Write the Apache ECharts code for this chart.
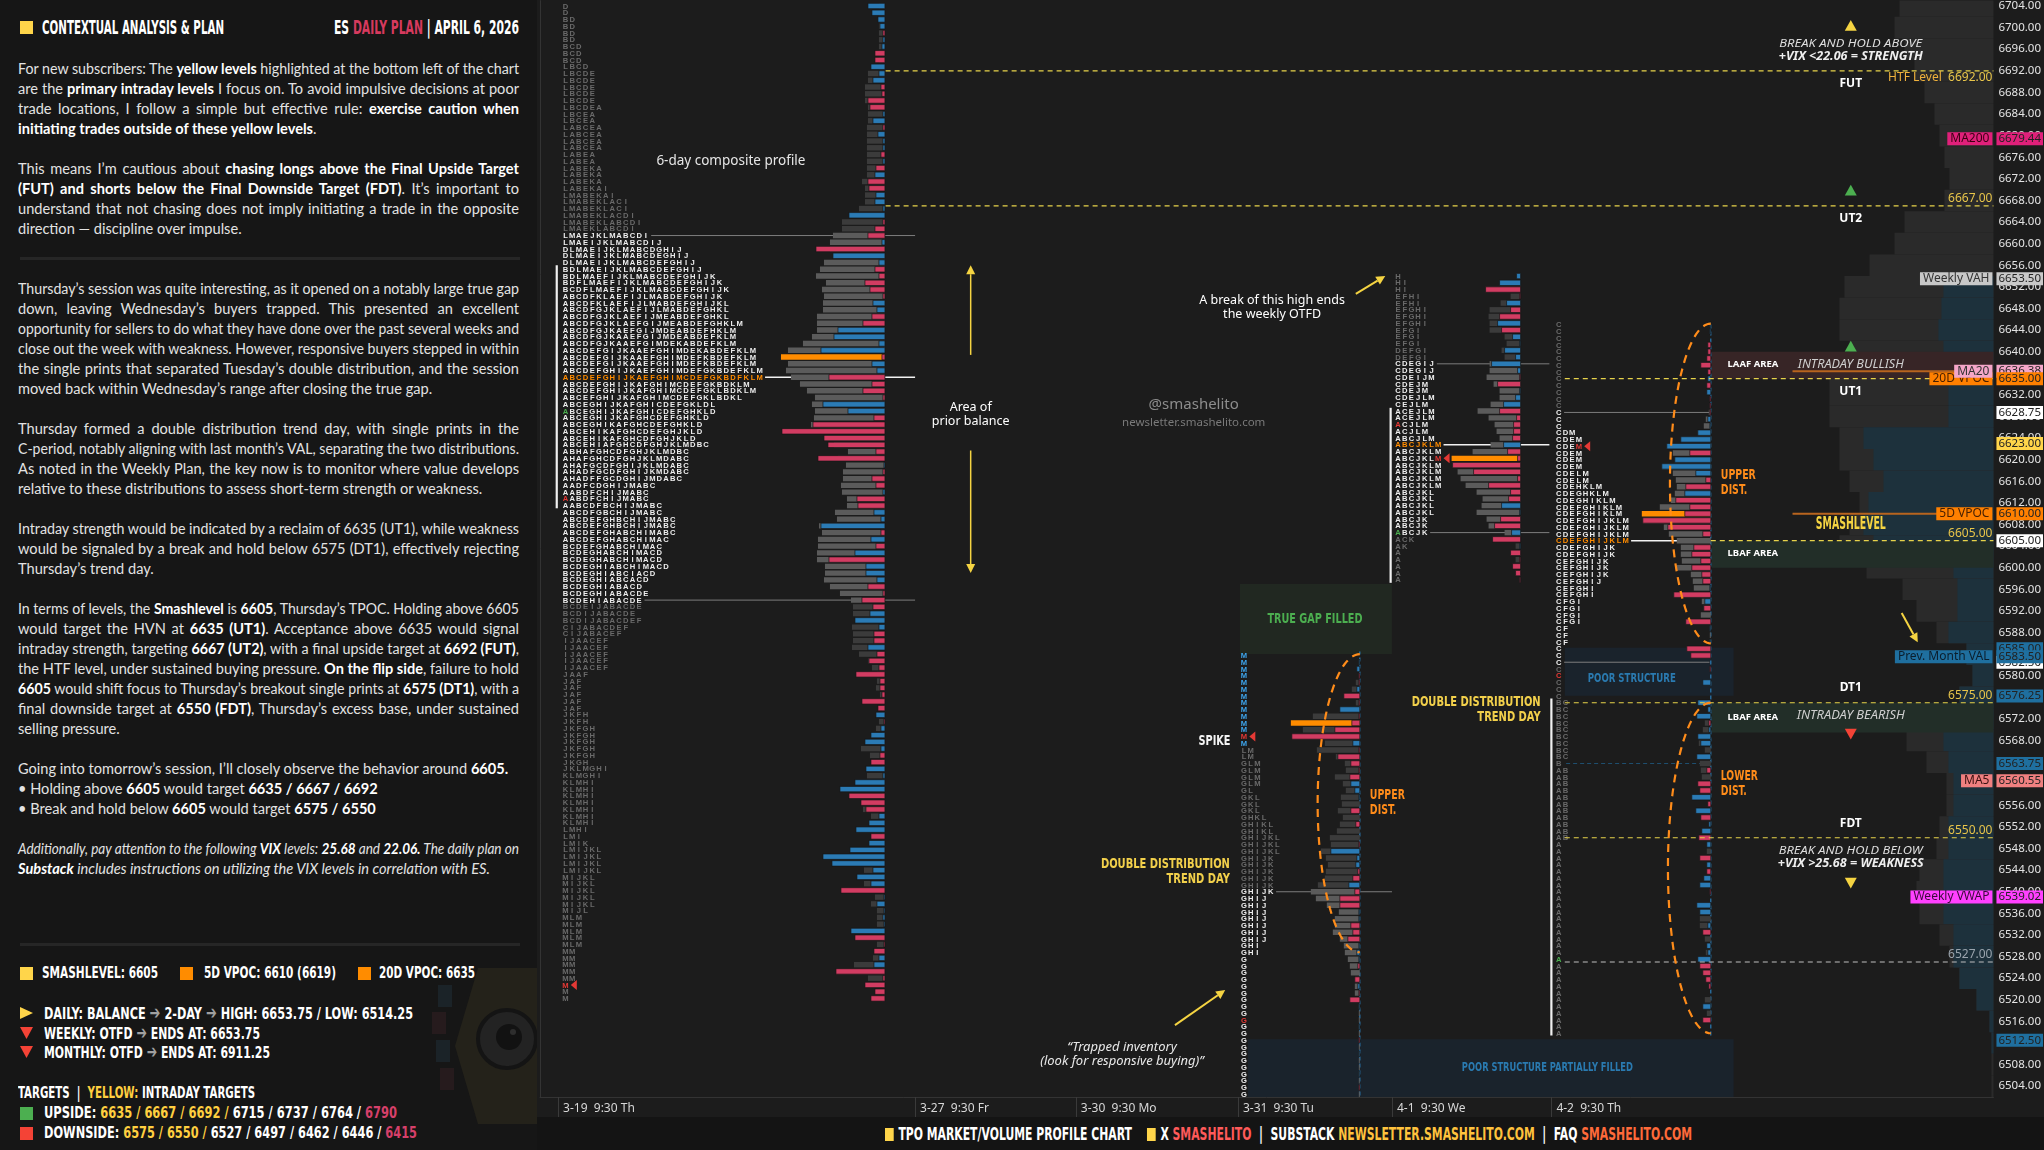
<!DOCTYPE html>
<html>
<head>
<meta charset="utf-8">
<title>ES Daily Plan – TPO / Volume Profile</title>
<script src="https://cdn.jsdelivr.net/npm/echarts@6.0.0/dist/echarts.min.js"></script>
<style>
html,body{margin:0;padding:0;width:2044px;height:1150px;overflow:hidden;background:#1c1c1c;}
#chart{position:absolute;left:0;top:0;width:2044px;height:1150px;}
#panel{position:absolute;left:0;top:0;width:537px;height:1150px;background:#161616;overflow:hidden;z-index:3;}
.cond{position:absolute;white-space:nowrap;font-family:"Liberation Sans Narrow","DejaVu Sans Condensed","DejaVu Sans",sans-serif;font-stretch:condensed;font-weight:bold;color:#fff;transform-origin:0 50%;line-height:18px;font-size:16px;}
.para{position:absolute;left:18px;width:501px;font-family:"Lato","Noto Sans",sans-serif;font-size:14.6px;line-height:20px;color:#e3e3e3;}
.para b{color:#fff;font-weight:bold;}
.ln{height:20px;white-space:nowrap;transform-origin:0 50%;text-align:left;}
.ln.j{text-align:justify;text-align-last:justify;}
.sq{position:absolute;width:13px;height:13px;}
.sep{position:absolute;left:20px;width:500px;height:3px;background:#262626;}
.y{color:#ffcf40}.r{color:#d6406a}.g{color:#a0a0a0;font-size:1.15em}
#footer{position:absolute;left:537px;top:1117px;width:1507px;height:33px;background:#141414;z-index:2;}
.isq{display:inline-block;width:13px;height:13px;background:#ffd54a;vertical-align:-1px;margin-right:7px;}
</style>
</head>
<body>
<div id="chart"></div>

<div id="panel">
  <svg style="position:absolute;left:0;top:0" width="537" height="1150">
    <polygon points="455,1046 478,968 537,968 537,1124 478,1124" fill="#24221a"/>
    <rect x="438" y="985" width="14" height="22" fill="#1b2328"/>
    <rect x="432" y="1012" width="14" height="22" fill="#261b1d"/>
    <rect x="436" y="1040" width="14" height="22" fill="#1b2328"/>
    <rect x="440" y="1068" width="14" height="22" fill="#261b1d"/>
    <circle cx="507" cy="1039" r="29" fill="#232323" stroke="#141414" stroke-width="4"/>
    <circle cx="509" cy="1037" r="13" fill="#121212"/>
    <circle cx="513" cy="1032" r="3" fill="#2e2e2e"/>
    <polygon points="20,1007 33,1013 20,1019" fill="#ffd54a"/>
    <polygon points="20,1027 33,1027 26.5,1039" fill="#f44336"/>
    <polygon points="20,1046 33,1046 26.5,1058" fill="#f44336"/>
  </svg>
  <div class="sq" style="left:20px;top:21px;background:#ffd54a"></div>
  <div class="cond fit" data-w="182" style="left:42px;top:16px;font-size:19px;line-height:22px">CONTEXTUAL ANALYSIS &amp; PLAN</div>
  <div class="cond fit" data-w="185" style="left:334px;top:16px;font-size:19px;line-height:22px">ES <span style="color:#d63a5e">DAILY PLAN</span> | APRIL 6, 2026</div>

  <div class="para" style="top:59px">
    <div class="ln j">For new subscribers: The <b>yellow levels</b> highlighted at the bottom left of the chart</div>
    <div class="ln j">are the <b>primary intraday levels</b> I focus on. To avoid impulsive decisions at poor</div>
    <div class="ln j">trade locations, I follow a simple but effective rule: <b>exercise caution when</b></div>
    <div class="ln"><b>initiating trades outside of these yellow levels</b>.</div>
  </div>
  <div class="para" style="top:159px">
    <div class="ln j">This means I’m cautious about <b>chasing longs above the Final Upside Target</b></div>
    <div class="ln j"><b>(FUT) and shorts below the Final Downside Target (FDT)</b>. It’s important to</div>
    <div class="ln j">understand that not chasing does not imply initiating a trade in the opposite</div>
    <div class="ln">direction — discipline over impulse.</div>
  </div>
  <div class="sep" style="top:257px"></div>
  <div class="para" style="top:279px">
    <div class="ln j">Thursday’s session was quite interesting, as it opened on a notably large true gap</div>
    <div class="ln j">down, leaving Wednesday’s buyers trapped. This presented an excellent</div>
    <div class="ln j">opportunity for sellers to do what they have done over the past several weeks and</div>
    <div class="ln j">close out the week with weakness. However, responsive buyers stepped in within</div>
    <div class="ln j">the single prints that separated Tuesday’s double distribution, and the session</div>
    <div class="ln">moved back within Wednesday’s range after closing the true gap.</div>
  </div>
  <div class="para" style="top:419px">
    <div class="ln j">Thursday formed a double distribution trend day, with single prints in the</div>
    <div class="ln j">C-period, notably aligning with last month’s VAL, separating the two distributions.</div>
    <div class="ln j">As noted in the Weekly Plan, the key now is to monitor where value develops</div>
    <div class="ln">relative to these distributions to assess short-term strength or weakness.</div>
  </div>
  <div class="para" style="top:519px">
    <div class="ln j">Intraday strength would be indicated by a reclaim of 6635 (UT1), while weakness</div>
    <div class="ln j">would be signaled by a break and hold below 6575 (DT1), effectively rejecting</div>
    <div class="ln">Thursday’s trend day.</div>
  </div>
  <div class="para" style="top:599px">
    <div class="ln j">In terms of levels, the <b>Smashlevel</b> is <b>6605</b>, Thursday’s TPOC. Holding above 6605</div>
    <div class="ln j">would target the HVN at <b>6635 (UT1)</b>. Acceptance above 6635 would signal</div>
    <div class="ln j">intraday strength, targeting <b>6667 (UT2)</b>, with a final upside target at <b>6692 (FUT)</b>,</div>
    <div class="ln j">the HTF level, under sustained buying pressure. <b>On the flip side</b>, failure to hold</div>
    <div class="ln j"><b>6605</b> would shift focus to Thursday’s breakout single prints at <b>6575 (DT1)</b>, with a</div>
    <div class="ln j">final downside target at <b>6550 (FDT)</b>, Thursday’s excess base, under sustained</div>
    <div class="ln">selling pressure.</div>
  </div>
  <div class="para" style="top:759px">
    <div class="ln">Going into tomorrow’s session, I’ll closely observe the behavior around <b>6605.</b></div>
    <div class="ln">• Holding above <b>6605</b> would target <b>6635 / 6667 / 6692</b></div>
    <div class="ln">• Break and hold below <b>6605</b> would target <b>6575 / 6550</b></div>
  </div>
  <div class="para" style="top:839px;font-style:italic">
    <div class="ln j">Additionally, pay attention to the following <b>VIX</b> levels: <b>25.68</b> and <b>22.06.</b> The daily plan on</div>
    <div class="ln"><b>Substack</b> includes instructions on utilizing the VIX levels in correlation with ES.</div>
  </div>
  <div class="sep" style="top:943px"></div>

  <div class="sq" style="left:20px;top:967px;background:#ffd54a"></div>
  <div class="cond fit" data-w="116" style="left:42px;top:964px">SMASHLEVEL: 6605</div>
  <div class="sq" style="left:180px;top:967px;background:#ff8c00"></div>
  <div class="cond fit" data-w="132" style="left:204px;top:964px">5D VPOC: 6610 (6619)</div>
  <div class="sq" style="left:358px;top:967px;background:#ff8c00"></div>
  <div class="cond fit" data-w="96" style="left:379px;top:964px">20D VPOC: 6635</div>

  <div class="cond fit" data-w="369" style="left:44px;top:1004px">DAILY: BALANCE <span class="g">➔</span> 2-DAY <span class="g">➔</span> HIGH: 6653.75 / LOW: 6514.25</div>
  <div class="cond fit" data-w="216" style="left:44px;top:1024px">WEEKLY: OTFD <span class="g">➔</span> ENDS AT: 6653.75</div>
  <div class="cond fit" data-w="226" style="left:44px;top:1043px">MONTHLY: OTFD <span class="g">➔</span> ENDS AT: 6911.25</div>

  <div class="cond fit" data-w="237" style="left:18px;top:1084px">TARGETS&nbsp; | &nbsp;<span class="y">YELLOW:</span> INTRADAY TARGETS</div>
  <div class="sq" style="left:20px;top:1107px;background:#4caf50"></div>
  <div class="cond fit" data-w="353" style="left:44px;top:1104px">UPSIDE: <span class="y">6635 / 6667 / 6692 /</span> 6715 / 6737 / 6764 / <span class="r">6790</span></div>
  <div class="sq" style="left:20px;top:1127px;background:#f44336"></div>
  <div class="cond fit" data-w="373" style="left:44px;top:1124px">DOWNSIDE: <span class="y">6575 / 6550 /</span> 6527 / 6497 / 6462 / 6446 / <span class="r">6415</span></div>
</div>

<div id="footer">
  <div class="cond fit" data-w="807" style="left:348px;top:7px;font-size:18px;line-height:20px"><span class="isq"></span>TPO MARKET/VOLUME PROFILE CHART &nbsp;&nbsp; <span class="isq"></span>X <span style="color:#ff5a5a">SMASHELITO</span> &nbsp;|&nbsp; SUBSTACK <span style="color:#ffc23d">NEWSLETTER.SMASHELITO.COM</span> &nbsp;|&nbsp; FAQ <span style="color:#ff6a3a">SMASHELITO.COM</span></div>
</div>

<script>
// ====================== DATA ======================
const ROW = 1.25; // TPO / volume row height in index points

// Price axis tick labels
const priceTicks = [6504,6508,6512,6516,6520,6524,6528,6532,6536,6540,6544,6548,6552,6556,6560,6564,6568,6572,6576,6580,6584,6588,6592,6596,6600,6604,6608,6612,6616,6620,6624,6628,6632,6636,6640,6644,6648,6652,6656,6660,6664,6668,6672,6676,6680,6684,6688,6692,6696,6700,6704];

// Session (time axis) labels and their positions on the session axis
const sessionDates = ['3-19  9:30 Th','3-27  9:30 Fr','3-30  9:30 Mo','3-31  9:30 Tu','4-1  9:30 We','4-2  9:30 Th'];
const sessionPos = [2.7, 56, 80, 104.2, 127.2, 151];

// ---- 6-day composite profile (top row price, TPO rows run-length, volume run-length, delta per row)
const compTop = 6704;
const compTpo = [[2,'D'],[4,'BD'],[3,'BCD'],[1,'LBCD'],[5,'LBCDE'],[1,'LBCDEA'],[2,'LBCEA'],[4,'LABCEA'],[2,'LABEA'],[3,'LABEKA'],[1,'LABEKAI'],[1,'LMABEKAI'],[2,'LMABEKLACI'],[1,'LMABEKLACDI'],[1,'LMABEKLABCDI'],[1,'LMAEKLABCDI'],
 [1,'LMAEJKLMABCDI'],[1,'LMAEIJKLMABCDIJ'],[1,'DLMAEIJKLMABCDGHIJ'],[1,'DLMAEIJKLMABCDEGHIJ'],[1,'DLMAEIJKLMABCDEFGHIJ'],[1,'BDLMAEIJKLMABCDEFGHIJ'],[1,'BDLMAEFIJKLMABCDEFGHIJK'],[1,'BDFLMAEFIJKLMABCDEFGHIJK'],[1,'BCDFLMAEFIJKLMABCDEFGHIJK'],
 [1,'ABCDFKLAEFIJLMABDEFGHIJK'],[1,'ABCDFKLAEFIJLMABDEFGHIJKL'],[1,'ABCDFGJKLAEFIJLMABDEFGHKL'],[1,'ABCDFGJKLAEFIJMEABDEFGHKL'],[1,'ABCDFGJKLAEFGIJMEABDEFGHKLM'],[1,'ABCDFGJKAEFGIJMDEABDEFHKLM'],[1,'ABCDFGJKAAEFGIJMDEABDEFKLM'],[1,'ABCDFGJKAAEFGIMDEKABDEFKLM'],
 [1,'ABCDEFGIJKAAEFGHIMDEKABDEFKLM'],[2,'ABCDEFGIJKAAEFGHIMDEFKBDEFKLM'],[1,'ABCDEFGHIJKAEFGHIMDEFGKBDEFKLM'],[1,'ABCDEFGHIJKAEFGHIMCDEFGKBDFKLM'],[1,'ABCDEFGHIJKAFGHIMCDEFGKBDKLM'],[1,'ABCDEFGHIJKAFGHIMCDEFGKLBDKLM'],[1,'ABCEFGHIJKAFGHIMCDEFGKLBDKL'],
 [1,'ABCEGHIJKAFGHICDEFGKLDL'],[1,'ABCEGHIJKAFGHICDEFGHKLD'],[1,'ABCEGHIJKAFGHCDEFGHKLD'],[1,'ABCEGHIKAFGHCDEFGHKLD'],[1,'ABCEHIKAFGHCDEFGHJKLD'],[1,'ABCEHIKAFGHCDFGHJKLD'],[1,'ABCEHIAFGHCDFGHJKLMDBC'],[1,'ABHAFGHCDFGHJKLMDBC'],[1,'AHAFGHCDFGHJKLMDABC'],[1,'AHAFGCDFGHIJKLMDABC'],[1,'AHADFGCDFGHIJKMDABC'],[1,'AHADFFGCDGHIJMDABC'],
 [1,'AADFCDGHIJMABC'],[2,'AABDFCHIJMABC'],[1,'AABCDFBCHIJMABC'],[1,'ABCDFGBCHIJMABC'],[2,'ABCDEFGHBCHIJMABC'],[1,'ABCDEFGHABCHIMABC'],[1,'ABCDEFGHABCHIMAC'],[1,'BCDEFGHABCHIMAC'],[2,'BCDEGHABCHIMACD'],[1,'BCDEGHIABCHIMACD'],[1,'BCDEGHIABCIACD'],[1,'BCDEGHIABCACD'],[1,'BCDEGHIABACD'],[1,'BCDEGHIABACDE'],[1,'BCDEHIABACDE'],
 [1,'BCDEIJABACDE'],[1,'BCDIJABACDE'],[1,'BCDIJABACDEF'],[1,'CIJABACDEF'],[1,'CIJABACEF'],[5,'IJAACEF'],[1,'JAAF'],[5,'JAF'],[2,'JKFH'],[5,'JKFGH'],[1,'JKGH'],[1,'JKLMGHI'],[1,'KLMGHI'],[7,'KLMHI'],[1,'LMHI'],[1,'LMI'],[1,'LMIK'],[4,'LMIJKL'],[5,'MIJKL'],[1,'MIJL'],[5,'MLM'],[5,'MM'],[3,'M']];
const compVol = [[10,6],[2,17],[3,20],[3,17],[8,18],[1,23],[3,20],[1,26],[1,36],[2,43],[1,52],[2,55],[1,52],[1,61],[1,65],[1,69],[1,59],[1,63],[1,61],[2,62],[3,68],[1,73],[1,82],[1,97],[1,104],[1,97],[1,99],[1,94],[1,85],[1,78],[1,70],[1,73],[1,70],[1,71],[1,74],[1,65],[1,60],[1,51],[1,37],[1,47],[1,39],[2,42],[1,44],[1,43],[2,38],[1,50],[1,48],[1,66],[1,63],[2,67],[2,68],[2,60],[1,61],[1,55],[1,45],[1,34],[2,32],[1,30],[1,33],[2,32],[1,33],[1,26],[1,17],[1,13],[2,8],[1,9],[1,5],[1,4],[2,3],[1,6],[1,9],[2,3],[1,24],[1,15],[2,3],[1,18],[4,3],[1,22],[1,14],[7,3],[1,21],[1,3],[1,21],[1,3],[1,10],[1,14],[3,8],[2,3],[1,8],[1,3],[1,12],[1,31],[1,3],[1,17],[3,3]];
const compDelta = [17,13,7,5,-2,2,3,-10,-10,14,6,12,-4,-3,-17,-15,2,12,-2,7,2,2,-4,2,-9,10,-17,-16,9,10,2,36,-2,-10,-17,3,-69,52,6,-10,-6,-20,-15,-2,12,8,-13,-22,47,51,6,64,-3,13,8,-56,-13,-22,-2,62,37,-11,-72,-103,-61,-57,-9,-67,1,-2,-13,-9,2,-28,-27,11,4,64,-4,14,-9,30,-56,19,19,8,-17,-2,-23,-12,15,30,
 6,-11,-11,17,-8,-16,-6,-29,-5,-5,-3,-23,-7,9,-1,4,14,20,4,-5,-14,19,2,30,45,-36,-24,-19,6,16,29,-14,16,35,62,53,12,28,14,-44,1,8,1,2,1,34,-30,-1,-11,6,11,-49,-2,-20,-10,-14];
const compRows = {vah:34, poc:55, val:88, vpoc:52, marker:145};
const compSpecial = [[60,0,'#4caf50'],[73,0,'#e53935'],[145,0,'#e53935']];

// ---- 3-31 (Tue) profile
const p331Top = 6583.75;
const p331Tpo = [[14,'M'],[2,'LM'],[4,'GLM'],[1,'GL'],[3,'GKL'],[1,'GHKL'],[2,'GHIKL'],[3,'GHIJKL'],[6,'GHIJK'],[7,'GHIJ'],[2,'GHI'],[21,'G']];
const p331Vol = [0,1,3,1,4,8,16,4,20,47,69,57,68,35,43,24,15,14,25,17,14,19,18,22,17,20,23,30,29,39,34,32,34,35,42,49,44,33,21,25,25,27,20,16,15,12,10,9,5,5,5,10,1,1,1,1,1,1,1,1,1,1,1,1,1,1];
const p331Delta = [0,1,3,-1,-1,3,-16,-1,20,-1,-8,-25,-68,7,-1,-22,-9,-1,-10,9,5,1,0,-9,0,-4,0,0,-1,29,3,4,-2,-7,11,-5,-20,-20,1,1,-9,-7,-12,1,3,1,-2,0,-5,2,-1,-10,1,0,0,1,0,-1,0,1,0,0,1,0,-1,0];
const p331Rows = {vah:35, poc:-1, val:65, vpoc:10, marker:12, blueTo:13};
const p331Special = [[12,0,'#e53935'],[54,0,'#e53935']];

// ---- 4-1 (Wed) profile
const p401Top = 6654;
const p401Tpo = [[1,'H'],[2,'HI'],[2,'EFHI'],[3,'EFGHI'],[3,'EFGI'],[2,'DEFGI'],[2,'CDEGIJ'],[1,'CDEIJM'],[2,'CDEJM'],[1,'CDEJLM'],[1,'CEJLM'],[2,'ACEJLM'],[2,'ACJLM'],[1,'ABCJLM'],[7,'ABCJKLM'],[4,'ABCJKL'],[3,'ABCJK'],[1,'ACK'],[1,'AK'],[5,'A']];
const p401Vol = [4,21,35,10,20,31,32,31,31,16,14,19,16,31,31,34,27,21,21,30,43,32,26,24,21,30,48,69,68,63,60,55,44,38,39,44,34,32,16,28,5,10,5,8,5,1];
const p401Delta = [4,21,-35,-1,14,-10,-21,23,-19,8,1,16,5,29,3,-1,-23,1,5,17,-21,-4,-7,-7,-8,17,-13,-3,-68,-47,-3,-32,-10,-12,19,1,-20,-26,9,-28,1,-10,-1,-8,-5,-1];
const p401Rows = {vah:13, poc:25, val:38, vpoc:27, marker:27};
const p401Special = [[22,0,'#e53935'],[27,6,'#e53935'],[38,0,'#4caf50']];

// ---- 4-2 (Thu) profile
const p402Top = 6645;
const p402Tpo = [[13,'C'],[3,'C'],[1,'CDM'],[5,'CDEM'],[2,'CDELM'],[1,'CDEHKLM'],[1,'CDEGHKLM'],[1,'CDEGHIKLM'],[2,'CDEFGHIKLM'],[4,'CDEFGHIJKLM'],[2,'CDEFGHIJK'],[3,'CEFGHIJK'],[1,'CEFGHIJ'],[2,'CEFGHI'],[4,'CFGI'],[3,'CF'],[3,'C'],[5,'C'],[9,'BC'],[1,'B'],[11,'AB'],[29,'A']];
const p402Vol = [1,1,0,3,3,4,10,3,3,4,4,1,1,2,5,7,13,30,44,38,36,49,38,35,34,36,40,51,69,68,47,42,34,30,30,29,34,20,18,17,37,9,7,10,25,1,1,1,24,20,0,1,0,8,0,0,13,3,14,6,8,13,12,6,14,11,10,9,13,11,19,3,15,10,2,9,12,4,4,11,4,4,7,11,1,0,14,11,11,11,8,6,4,5,13,11,8,5,2,0,6,8,4,8,0,0];
const p402Delta = [1,1,0,-3,-3,-4,-10,-3,3,-4,4,-1,-1,-1,3,1,13,30,44,-21,36,49,15,-5,-25,26,-35,-21,-26,-68,-43,-8,0,-17,-19,-10,-19,-9,-8,1,-37,6,-7,0,-25,1,0,1,-24,-20,0,-1,0,8,0,0,13,3,14,-2,2,13,10,0,14,0,-4,0,-13,-11,19,-3,15,-10,2,9,-12,4,0,-11,4,-4,7,11,-1,0,14,11,0,3,-8,0,4,3,13,-11,-8,-5,-2,0,0,8,0,-8,0,0];
const p402Rows = {vah:13, poc:32, val:50, vpoc:28, marker:18};
const p402Special = [[18,3,'#e53935'],[52,0,'#e53935'],[94,0,'#4caf50']];

// Initial-balance ranges (price from, price to) for composite, 4-1, 4-2
const ibRanges = [[6611,6656],[6597.2,6629.6],[6513.4,6575.8]];

// Weekly background volume profile (4-pt bands) and its value-area part
const weeklyPrices = [6704,6700,6696,6692,6688,6684,6680,6676,6672,6668,6664,6660,6656,6652,6648,6644,6640,6636,6632,6628,6624,6620,6616,6612,6608,6604,6600,6596,6592,6588,6584,6580,6576,6572,6568,6564,6560,6556,6552,6548,6544,6540,6536,6532,6528,6524,6520,6516,6512,6508,6504];
const weeklyVol = [94,99,89,79,69,59,54,49,44,49,89,99,124,149,154,154,144,164,164,164,154,154,144,134,144,154,127,91,77,57,27,21,34,84,87,67,47,47,54,57,74,77,74,54,44,34,17,4,2,2,2];
const weeklyVA = [0,0,0,0,0,0,0,0,0,0,0,0,0,50,52,55,50,45,45,45,130,120,110,125,130,120,40,36,36,45,27,21,34,40,50,45,40,40,45,45,50,50,50,40,40,34,17,4,2,0,0];

// Key levels (dashed) and labels
const levelPrices = [6692, 6667, 6635, 6605, 6575, 6550, 6527];
const levelLabels = ['6692.00','6667.00','','6605.00','6575.00','6550.00','6527.00'];
// Moving-average / VPOC reference lines
const refLines = [6636.38, 6610.00];

// Axis value tags
const axisTagValues = [6679.44, 6653.50, 6636.38, 6635.00, 6628.75, 6623.00, 6610.00, 6605.00, 6585.00, 6582.50, 6583.50, 6576.25, 6563.75, 6560.55, 6539.02, 6512.50];
const namedTags = [[6679.44,'MA200'],[6653.50,'Weekly VAH'],[6635.00,'20D VPOC'],[6636.38,'MA20'],[6610.00,'5D VPOC'],[6583.50,'Prev. Month VAL'],[6560.55,'MA5'],[6539.02,'Weekly VWAP']];

// Zones (price ranges)
const zoneRanges = {trueGap:[6584,6597], poor:[6576.3,6585.2], poorPartial:[6502,6512.7], laaf:[6635,6640], lbaf1:[6600,6605], lbaf2:[6569.5,6575]};

// ====================== LAYOUT / STYLE ======================
const X_MAX = 217;
const VOL_PER_UNIT = 6.7;   // volume units per one session-axis unit
const COL = {
  blue:'#2b7bb5', red:'#d23c62', grayVA:'#5b5b5b', grayOut:'#3b3b3b', orange:'#ff8c00',
  letter:'#eeeeee', letterDim:'#6a6a6a', level:'#e6d24a', teal:'#1d313c', bg:'#2a2a2a'
};
const CONDF = '"Liberation Sans Narrow","DejaVu Sans Condensed","Arial Narrow",sans-serif';
const SANS = '"Noto Sans","Open Sans",sans-serif';

function expand(rle){ const out=[]; rle.forEach(([n,v])=>{ for(let i=0;i<n;i++) out.push(v); }); return out; }

const profiles = [
  {top:compTop, tpo:expand(compTpo), vol:expand(compVol), delta:compDelta, rows:compRows, special:compSpecial, letterX:3.3, axisX:51.5, lineEnd:56},
  {top:p331Top, tpo:expand(p331Tpo), vol:p331Vol, delta:p331Delta, rows:p331Rows, special:p331Special, letterX:104.6, axisX:122.4, lineEnd:127.2},
  {top:p401Top, tpo:expand(p401Tpo), vol:p401Vol, delta:p401Delta, rows:p401Rows, special:p401Special, letterX:127.6, axisX:146.4, lineEnd:150.7},
  {top:p402Top, tpo:expand(p402Tpo), vol:p402Vol, delta:p402Delta, rows:p402Rows, special:p402Special, letterX:151.6, axisX:174.8, lineEnd:174.6}
];
const ibX = [2.5, 127.0, 151.0];

function unitPx(api, p){ return api.coord([1,p])[0] - api.coord([0,p])[0]; }
function rowPx(api, p){ return api.coord([0,p])[1] - api.coord([0,p+ROW])[1]; }

function profileRender(P){
  return function(params, api){
    const k = params.dataIndex;
    const price = P.top - k*ROW;
    const c = api.coord([P.axisX, price]);
    const xr = c[0], y = c[1];
    const u = unitPx(api, price);
    const vpx = u / VOL_PER_UNIT;
    const h = rowPx(api, price) * 0.8;
    const R = P.rows;
    const inVA = k >= R.vah && k <= R.val;
    const ch = [];
    const v = P.vol[k] || 0;
    if (v > 0) ch.push({type:'rect', shape:{x:xr - v*vpx, y:y-h/2, width:v*vpx, height:h},
      style:{fill: k===R.vpoc ? COL.orange : (inVA ? COL.grayVA : COL.grayOut)}});
    const d = P.delta[k] || 0;
    if (d !== 0) ch.push({type:'rect', shape:{x:xr - Math.abs(d)*vpx, y:y-h/2, width:Math.abs(d)*vpx, height:h},
      style:{fill: d>0 ? COL.blue : COL.red, stroke:'#161616', lineWidth:0.7}});
    const s = P.tpo[k] || '';
    const x0 = api.coord([P.letterX, price])[0];
    for (let j=0; j<s.length; j++){
      let col;
      const sp = P.special.find(q => q[0]===k && q[1]===j);
      if (sp) col = sp[2];
      else if (k === R.poc) col = COL.orange;
      else if (R.blueTo !== undefined && k <= R.blueTo) col = '#3ea6ee';
      else if (inVA) col = COL.letter;
      else col = COL.letterDim;
      ch.push({type:'text', style:{text:s[j], x:x0 + j*u + u/2, y:y+0.5, fill:col,
        font:'bold 7.6px "Liberation Sans","DejaVu Sans",sans-serif', textAlign:'center', textVerticalAlign:'middle'}});
    }
    if (k === R.marker){
      const xm = x0 + s.length*u + 2;
      ch.push({type:'polygon', shape:{points:[[xm,y],[xm+6,y-5],[xm+6,y+5]]}, style:{fill:'#e53935'}});
    }
    return {type:'group', children:ch};
  };
}

// profile structure lines (VAH / POC / VAL)
const structLines = [];
profiles.forEach(P=>{
  const R = P.rows;
  [['vah',R.vah],['poc',R.poc],['val',R.val]].forEach(([kind,k])=>{
    if (k < 0 || k >= P.tpo.length) return;
    if (P === profiles[1] && kind !== 'vah') return;
    const price = P.top - k*ROW;
    structLines.push({x1:P.letterX + P.tpo[k].length + 0.3, x2:P.lineEnd, p:price, kind});
  });
});

const series = [];
// weekly background profile
series.push({type:'custom', z:1, silent:true, clip:true,
  data: weeklyPrices.map(p=>[X_MAX, p]),
  renderItem:(params, api)=>{
    const i = params.dataIndex, p = weeklyPrices[i];
    const a = api.coord([X_MAX, p+2]), b = api.coord([X_MAX, p-2]);
    const vpx = unitPx(api,p)/VOL_PER_UNIT;
    const ch = [{type:'rect', shape:{x:a[0]-weeklyVol[i]*vpx, y:a[1], width:weeklyVol[i]*vpx, height:b[1]-a[1]}, style:{fill:COL.bg}}];
    if (weeklyVA[i] > 0) ch.push({type:'rect', shape:{x:a[0]-weeklyVA[i]*vpx, y:a[1], width:weeklyVA[i]*vpx, height:b[1]-a[1]}, style:{fill:COL.teal}});
    return {type:'group', children:ch};
  }});
// zones
const zoneDefs = [
  {r:zoneRanges.trueGap, x:[104.5,127.2], fill:'#212821'},
  {r:zoneRanges.poor, x:[153,178.2], fill:'#1a232c'},
  {r:zoneRanges.poorPartial, x:[105.7,178.2], fill:'#1a232c'},
  {r:zoneRanges.laaf, x:[174.9,X_MAX], fill:'#372526'},
  {r:zoneRanges.lbaf1, x:[174.9,X_MAX], fill:'#222e28'},
  {r:zoneRanges.lbaf2, x:[174.9,X_MAX], fill:'#222e28'}
];
series.push({type:'custom', z:2, silent:true,
  data: zoneDefs.map(z=>[z.x[0], z.r[0]]),
  renderItem:(params, api)=>{
    const z = zoneDefs[params.dataIndex];
    const a = api.coord([z.x[0], z.r[1]]), b = api.coord([z.x[1], z.r[0]]);
    return {type:'rect', shape:{x:a[0], y:a[1], width:b[0]-a[0], height:b[1]-a[1]}, style:{fill:z.fill}};
  }});
// structure lines + IB lines + profile axis dashed lines + reference lines
const plainLines = [];
structLines.forEach(l=>plainLines.push({x1:l.x1, p1:l.p, x2:l.x2, p2:l.p, color: l.kind==='poc' ? '#f2f2f2' : '#7d7d7d', w: l.kind==='poc'?1.5:1}));
ibRanges.forEach((r,i)=>plainLines.push({x1:ibX[i], p1:r[0], x2:ibX[i], p2:r[1], color:'#f0f0f0', w:2.2}));
plainLines.push({x1:profiles[1].axisX, p1:6502.3, x2:profiles[1].axisX, p2:6584.5, color:COL.blue, w:1.2, dash:[4,3]});
plainLines.push({x1:profiles[3].axisX, p1:6513.4, x2:profiles[3].axisX, p2:6645.6, color:COL.blue, w:1.2, dash:[4,3]});
plainLines.push({x1:profiles[3].letterX+1.6, p1:6563.75, x2:profiles[3].axisX-1.5, p2:6563.75, color:'#1f4f70', w:1, dash:[4,3]});
refLines.forEach(p=>plainLines.push({x1:187, p1:p, x2:X_MAX-0.2, p2:p, color:'#b8641e', w:2}));
series.push({type:'custom', z:3, silent:true,
  data: plainLines.map(l=>[l.x1, l.p1]),
  renderItem:(params, api)=>{
    const l = plainLines[params.dataIndex];
    const a = api.coord([l.x1, l.p1]), b = api.coord([l.x2, l.p2]);
    return {type:'line', shape:{x1:a[0], y1:a[1], x2:b[0], y2:b[1]}, style:{stroke:l.color, lineWidth:l.w, lineDash:l.dash||null}};
  }});
// profiles
profiles.forEach(P=>{
  series.push({type:'custom', z:4, silent:true, clip:false,
    data: P.tpo.map((_,k)=>[P.letterX, P.top - k*ROW]),
    renderItem: profileRender(P)});
});
// key levels
const levelFrom = [51.6, 51.6, 153, 174.8, 153, 153, 153];
series.push({type:'custom', z:5, silent:true,
  data: levelPrices.map((p,i)=>[levelFrom[i], p]),
  renderItem:(params, api)=>{
    const i = params.dataIndex, p = levelPrices[i];
    const a = api.coord([levelFrom[i], p]), b = api.coord([X_MAX, p]);
    return {type:'line', shape:{x1:a[0], y1:a[1], x2:b[0], y2:b[1]},
      style:{stroke: p===6527 ? '#bdbdbd' : COL.level, lineWidth:1.2, lineDash:[5,4]}};
  }});

const chart = echarts.init(document.getElementById('chart'));
chart.setOption({
  backgroundColor:'#1c1c1c',
  animation:false,
  grid:{left:540, right:50, top:0, bottom:53, show:false},
  xAxis:{type:'value', min:0, max:X_MAX,
    axisLine:{show:true, lineStyle:{color:'#333333'}},
    axisTick:{show:true, customValues:sessionPos, length:20, lineStyle:{color:'#3a3a3a'}},
    axisLabel:{customValues:sessionPos, color:'#d8d8d8', fontSize:12, fontFamily:'Noto Sans', align:'left', margin:6, padding:[0,0,0,5],
      formatter:(v)=>{ let i = sessionPos.findIndex(s=>Math.abs(s-v)<1e-6); return i>=0 ? sessionDates[i] : ''; }},
    splitLine:{show:false}},
  yAxis:{type:'value', position:'right', min:6502, max:6705,
    axisLine:{show:true, lineStyle:{color:'#333333'}},
    axisTick:{show:false},
    axisLabel:{customValues:priceTicks, formatter:(v)=>v.toFixed(2), color:'#e4e4e4', fontSize:11.5, fontFamily:'Noto Sans', margin:5},
    splitLine:{show:false}},
  series
});

// ====================== ANNOTATIONS ======================
const measureCtx = document.createElement('canvas').getContext('2d');
function textWidth(font, text){ measureCtx.font = font; return Math.max(...text.split('\n').map(t=>measureCtx.measureText(t).width)); }
function px(x,p){ return chart.convertToPixel({xAxisIndex:0, yAxisIndex:0}, [x,p]); }
function buildGraphics(){
  const els = [];
  const T = (text, x, p, o, fitW) => { const q = px(x,p);
    const style = Object.assign({text, fill:'#fff', font:`12px ${SANS}`, textAlign:'center', textVerticalAlign:'middle'}, o||{});
    const el = {type:'text', silent:true, z:50, x:q[0], y:q[1], style};
    if (fitW){ const w = textWidth(style.font, text); if (w>0){ el.scaleX = fitW / w; el.originX = 0; el.originY = 0; } }
    els.push(el); };
  const tri = (x,p,dir,color) => { const q=px(x,p); const s=6;
    const pts = dir==='up' ? [[q[0],q[1]-s],[q[0]-s,q[1]+s*0.8],[q[0]+s,q[1]+s*0.8]] : [[q[0],q[1]+s],[q[0]-s,q[1]-s*0.8],[q[0]+s,q[1]-s*0.8]];
    els.push({type:'polygon', silent:true, z:50, shape:{points:pts}, style:{fill:color}}); };
  const arrow = (x1,p1,x2,p2,color,w) => { const a=px(x1,p1), b=px(x2,p2);
    const ang = Math.atan2(b[1]-a[1], b[0]-a[0]); const L=9, W=4.5;
    const base=[b[0]-L*Math.cos(ang), b[1]-L*Math.sin(ang)];
    els.push({type:'line', silent:true, z:50, shape:{x1:a[0],y1:a[1],x2:base[0],y2:base[1]}, style:{stroke:color, lineWidth:w||2}});
    els.push({type:'polygon', silent:true, z:50, shape:{points:[b,[base[0]+W*Math.sin(ang), base[1]-W*Math.cos(ang)],[base[0]-W*Math.sin(ang), base[1]+W*Math.cos(ang)]]}, style:{fill:color}}); };
  const halfEllipse = (xAxisU, pTop, pBot, rxU) => { const t=px(xAxisU,pTop), b=px(xAxisU,pBot); const rx = px(xAxisU,pTop)[0]-px(xAxisU-rxU,pTop)[0];
    const cy=(t[1]+b[1])/2, ry=(b[1]-t[1])/2; const pts=[];
    for(let i=0;i<=60;i++){ const a=Math.PI/2 + Math.PI*i/60; pts.push([t[0]+rx*Math.cos(a), cy - ry*Math.sin(a)]); }
    els.push({type:'polyline', silent:true, z:49, shape:{points:pts}, style:{stroke:'#ff8c1a', lineWidth:2.2, lineDash:[8,6], fill:null}}); };

  // orange distribution outlines
  halfEllipse(122.4, 6584, 6528.8, 6.3);
  halfEllipse(174.8, 6645.2, 6586, 6.1);
  halfEllipse(174.8, 6575, 6513.8, 6.4);

  const CB14 = `bold 14px ${CONDF}`;
  // chart notes
  T('6-day composite profile', 28.5, 6675.3, {font:`13.5px ${SANS}`, fill:'#e6e6e6'});
  T('Area of\nprior balance', 64.3, 6628.3, {font:`12.5px ${SANS}`, lineHeight:14});
  arrow(64.3, 6639.4, 64.3, 6656, '#f5d442', 1.5);
  arrow(64.3, 6621.7, 64.3, 6599, '#f5d442', 1.5);
  T('A break of this high ends\nthe weekly OTFD', 109.3, 6648.1, {font:`12.5px ${SANS}`, lineHeight:14});
  arrow(121.8, 6650.7, 126.2, 6654.0, '#f5d442', 2);
  T('@smashelito', 97.6, 6630.2, {font:`15px ${SANS}`, fill:'#8c8c8c'});
  T('newsletter.smashelito.com', 97.6, 6626.8, {font:`11.5px ${SANS}`, fill:'#7a7a7a'});
  T('TRUE GAP FILLED', 115.7, 6590.4, {font:CB14, fill:'#4caf50'}, 95);
  T('SPIKE', 100.7, 6567.8, {font:CB14, fill:'#f4f4f4'}, 32);
  T('DOUBLE DISTRIBUTION\nTREND DAY', 103, 6543.6, {font:CB14, fill:'#f2d04b', textAlign:'right', lineHeight:15}, 129);
  T('UPPER\nDIST.', 123.9, 6556.4, {font:CB14, fill:'#ff8c1a', textAlign:'left', lineHeight:15}, 35);
  T('DOUBLE DISTRIBUTION\nTREND DAY', 149.4, 6573.6, {font:CB14, fill:'#f2d04b', textAlign:'right', lineHeight:15}, 129);
  T('UPPER\nDIST.', 176.3, 6615.8, {font:CB14, fill:'#ff8c1a', textAlign:'left', lineHeight:15}, 35);
  T('LOWER\nDIST.', 176.3, 6560.0, {font:CB14, fill:'#ff8c1a', textAlign:'left', lineHeight:15}, 37);
  T('POOR STRUCTURE', 163, 6579.5, {font:`bold 13px ${CONDF}`, fill:'#2a7ab0'}, 88);
  T('POOR STRUCTURE PARTIALLY FILLED', 150.4, 6507.3, {font:`bold 12px ${CONDF}`, fill:'#2a7ab0'}, 171);
  T('“Trapped inventory\n(look for responsive buying)”', 86.9, 6509.9, {font:`italic 13px ${SANS}`, fill:'#e8e8e8', lineHeight:14});
  arrow(94.8, 6515.3, 102.3, 6521.8, '#f5d442', 2);

  // right-side plan labels
  T('BREAK AND HOLD ABOVE', 195.7, 6697.1, {font:`italic 11.5px ${SANS}`, fill:'#dddddd'}, 143);
  T('+VIX <22.06 = STRENGTH', 195.7, 6694.6, {font:`italic bold 11.5px ${SANS}`, fill:'#eeeeee'}, 144);
  tri(195.7, 6700.3, 'up', '#f5d442');
  T('FUT', 195.7, 6689.6, {font:`bold 12px ${SANS}`});
  tri(195.7, 6669.8, 'up', '#4caf50');
  T('UT2', 195.7, 6664.6, {font:`bold 12px ${SANS}`});
  tri(195.7, 6640.9, 'up', '#4caf50');
  T('LAAF AREA', 177.3, 6637.6, {font:`bold 9.5px ${SANS}`, textAlign:'left'});
  T('INTRADAY BULLISH', 195.7, 6637.6, {font:`italic 13px ${SANS}`, fill:'#cfcfcf'}, 106);
  T('UT1', 195.7, 6632.6, {font:`bold 12px ${SANS}`});
  T('SMASHLEVEL', 195.7, 6608.0, {font:`bold 17px ${CONDF}`, fill:'#f5d442'}, 70);
  T('LBAF AREA', 177.3, 6602.6, {font:`bold 9.5px ${SANS}`, textAlign:'left'});
  T('DT1', 195.7, 6577.8, {font:`bold 12px ${SANS}`});
  T('LBAF AREA', 177.3, 6572.3, {font:`bold 9.5px ${SANS}`, textAlign:'left'});
  T('INTRADAY BEARISH', 195.7, 6572.6, {font:`italic 13px ${SANS}`, fill:'#cfcfcf'}, 108);
  tri(195.7, 6569.3, 'down', '#f44336');
  T('FDT', 195.7, 6552.6, {font:`bold 12px ${SANS}`});
  T('BREAK AND HOLD BELOW', 195.7, 6547.6, {font:`italic 11.5px ${SANS}`, fill:'#dddddd'}, 144);
  T('+VIX >25.68 = WEAKNESS', 195.7, 6545.1, {font:`italic bold 11.5px ${SANS}`, fill:'#eeeeee'}, 146);
  tri(195.7, 6541.7, 'down', '#f5d442');
  arrow(203.3, 6591.6, 205.7, 6586.2, '#f5d442', 2);

  // level labels (the HTF one sits just below its line, the others just above)
  levelPrices.forEach((p,i)=>{ if(!levelLabels[i]) return; const q=px(X_MAX,p);
    const isHtf = i === 0;
    els.push({type:'text', silent:true, z:51, x:q[0]-1, y: isHtf ? q[1]+1 : q[1]-1, style:{
      text: isHtf ? '{a|HTF Level}  {b|' + levelLabels[i] + '}' : levelLabels[i],
      rich: isHtf ? {a:{fill:'#f0b23c', font:`12px ${SANS}`}, b:{fill:'#e8c54a', font:`12px ${SANS}`}} : undefined,
      fill: p===6527?'#9aa4ad':'#e8c54a', font:`12px ${SANS}`, textAlign:'right', textVerticalAlign: isHtf ? 'top' : 'bottom'}}); });

  // inner named tags
  const tagStyle = {
    'MA200':['#e0207a','#3a0012'], 'Weekly VAH':['#c8c8c8','#333'], '20D VPOC':['#ff8000','#4a2000'], 'MA20':['#f4a6c8','#333'],
    '5D VPOC':['#ff8000','#4a2000'], 'Prev. Month VAL':['#1f6f9f','#0b1e2c'], 'MA5':['#f08080','#3a1010'], 'Weekly VWAP':['#ff40ff','#3a0a3a']
  };
  namedTags.forEach(([p,name])=>{ const q=px(X_MAX,p); const st=tagStyle[name];
    els.push({type:'text', silent:true, z:52, x:q[0]-1, y:q[1], style:{text:name, fill:st[1], backgroundColor:st[0], padding:[1,3,0,3], font:`12px ${SANS}`, textAlign:'right', textVerticalAlign:'middle'}}); });

  // axis value tags
  const axisTagColors = {6679.44:'#e0207a', 6653.50:'#c8c8c8', 6636.38:'#f4a6c8', 6635.00:'#ff8000', 6628.75:'#ffffff', 6623.00:'#ffd54a', 6610.00:'#ff8000', 6605.00:'#ffffff',
    6585.00:'#1f6f9f', 6582.50:'#ffffff', 6583.50:'#1f6f9f', 6576.25:'#1f6f9f', 6563.75:'#1f6f9f', 6560.55:'#f08080', 6539.02:'#ff40ff', 6512.50:'#1f6f9f'};
  axisTagValues.forEach(p=>{ const q=px(X_MAX,p); const bg = axisTagColors[p] || '#888';
    els.push({type:'text', silent:true, z:53, x:q[0]+3, y:q[1], style:{text:p.toFixed(2), fill:'#222', backgroundColor:bg, padding:[1,2,0,2], font:`11.5px ${SANS}`, textAlign:'left', textVerticalAlign:'middle'}}); });

  chart.setOption({graphic:{elements:els}});
}
buildGraphics();

// ====================== PANEL TEXT FITTING ======================
function fitText(){
  document.querySelectorAll('.ln').forEach(el=>{
    el.style.transform=''; el.style.display='inline-block'; el.style.width='auto'; el.style.whiteSpace='nowrap';
    const w = el.getBoundingClientRect().width;
    el.style.display='block';
    if (w > 501){ el.style.width=w+'px'; el.style.transform='scaleX('+(501/w)+')'; el.style.textAlignLast='left'; }
    else { el.style.width='501px'; el.style.whiteSpace='normal'; el.style.textAlignLast=''; }
  });
  document.querySelectorAll('.fit').forEach(el=>{
    el.style.transform='';
    const w = el.getBoundingClientRect().width, t = +el.dataset.w;
    if (w > 0) el.style.transform='scaleX('+(t/w)+')';
  });
}
fitText();
if (document.fonts && document.fonts.ready) document.fonts.ready.then(()=>{ fitText(); buildGraphics(); });
</script>
</body>
</html>
